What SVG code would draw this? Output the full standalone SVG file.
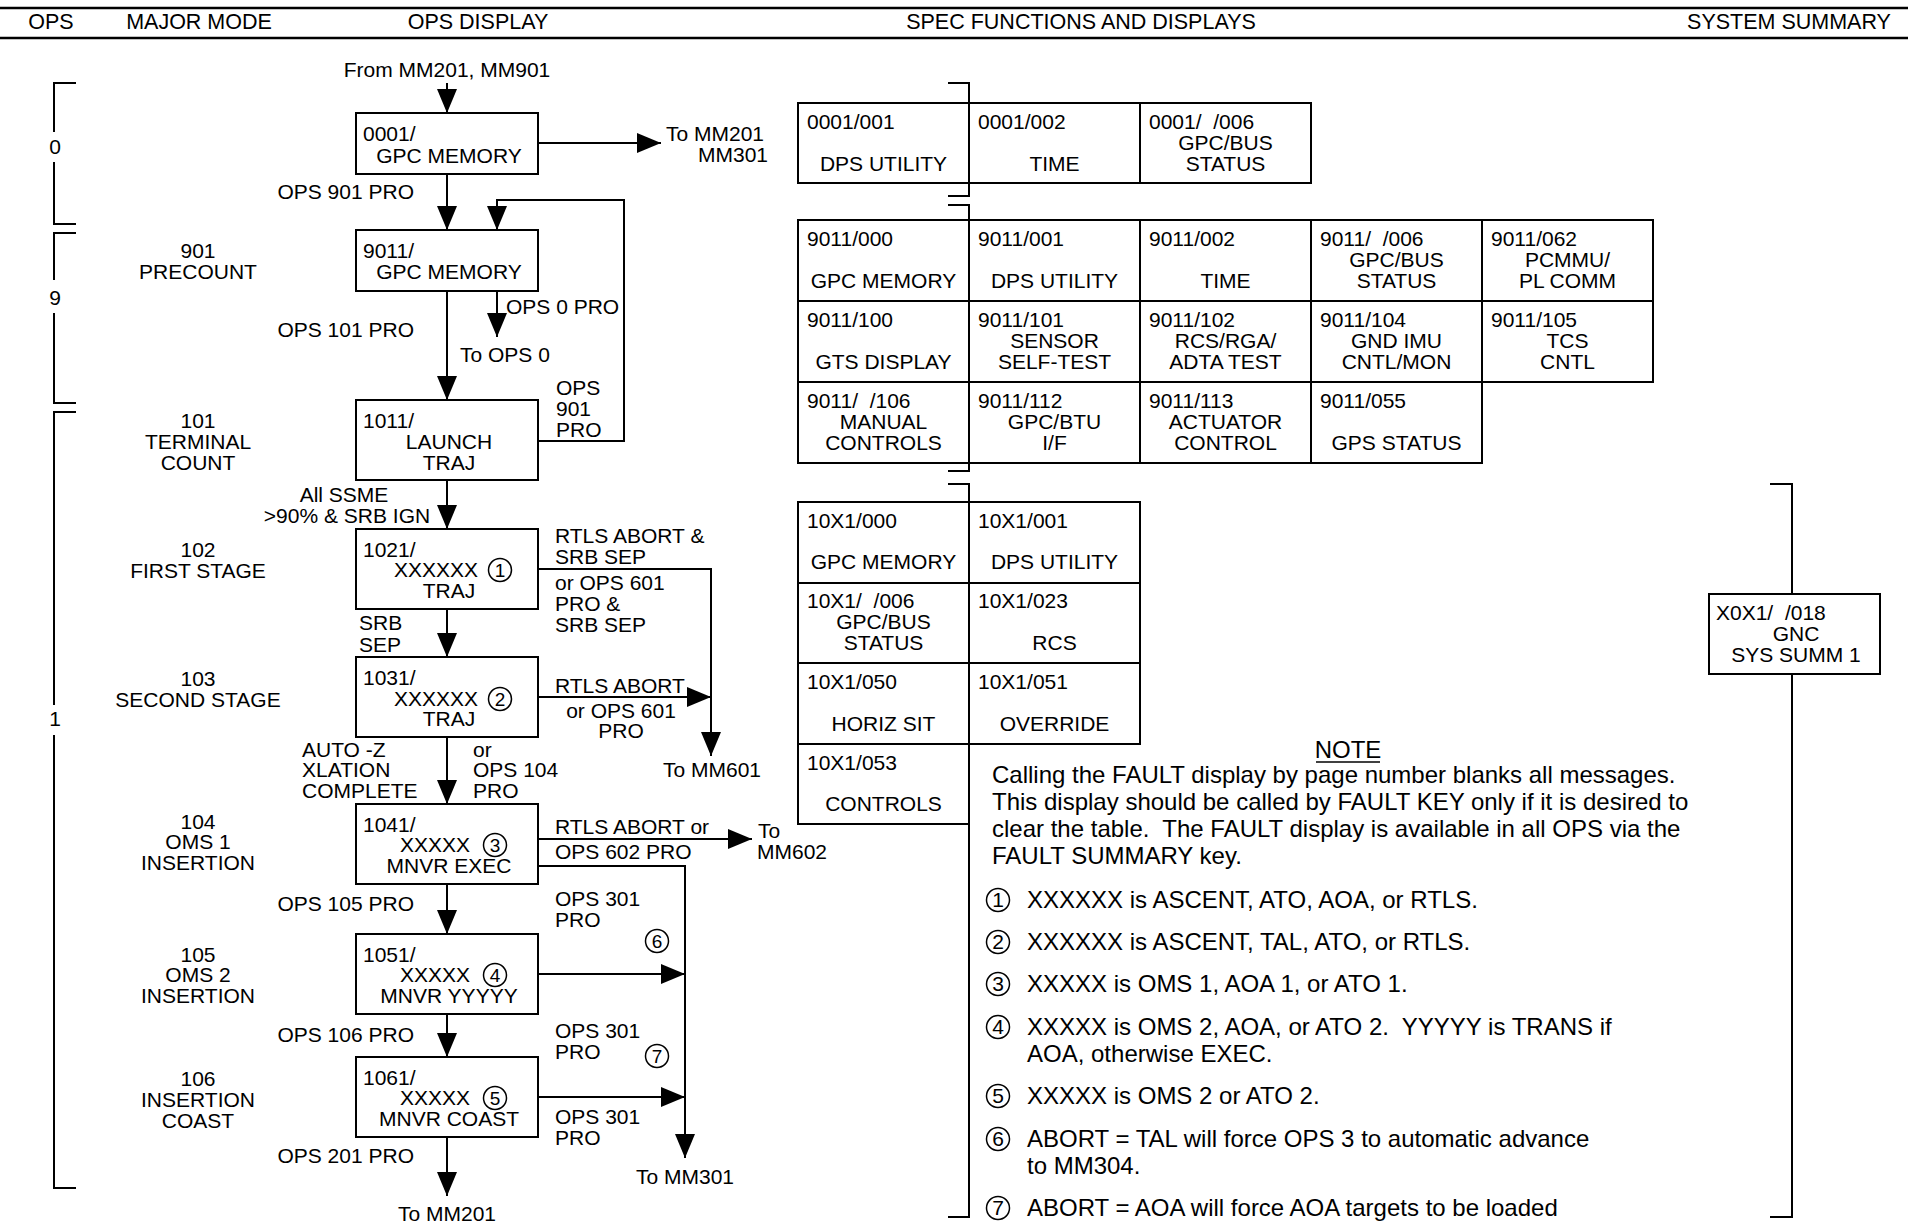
<svg xmlns="http://www.w3.org/2000/svg" width="1908" height="1222" viewBox="0 0 1908 1222">
<defs>
<style>
text { font-family: "Liberation Sans", Arial, sans-serif; font-size: 21px; fill: #000; }
.c { text-anchor: middle; }
.e { text-anchor: end; }
.pre { white-space: pre; }
.hdt { font-size: 21.5px; }
.nt { font-size: 24px; }
.box { fill: #fff; stroke: #000; stroke-width: 2; }
.ln { fill: none; stroke: #000; stroke-width: 2; }
.hd { fill: none; stroke: #000; stroke-width: 2.5; }
.cir { fill: #fff; stroke: #000; stroke-width: 1.5; }
.dg { font-size: 19px; text-anchor: middle; }
.dgn { font-size: 21px; text-anchor: middle; }
</style>
<marker id="ah" markerUnits="userSpaceOnUse" markerWidth="24" markerHeight="20" refX="24" refY="10" orient="auto">
<path d="M0,0 L24,10 L0,20 Z" fill="#000"/>
</marker>
</defs>
<rect width="1908" height="1222" fill="#fff"/>

<g id="header">
<line class="hd" x1="0" y1="8" x2="1908" y2="8"/>
<line class="hd" x1="0" y1="38" x2="1908" y2="38"/>
<text class="c hdt" x="51" y="29">OPS</text>
<text class="c hdt" x="199" y="29">MAJOR MODE</text>
<text class="c hdt" x="478" y="29">OPS DISPLAY</text>
<text class="c hdt" x="1081" y="29">SPEC FUNCTIONS AND DISPLAYS</text>
<text class="c hdt" x="1789" y="29">SYSTEM SUMMARY</text>
</g>

<g id="ops-brackets">
<path class="ln" d="M76,83 H54 V132 M54,162 V224 H76"/>
<text class="c" x="55" y="154">0</text>
<path class="ln" d="M76,233 H54 V280 M54,313 V403 H76"/>
<text class="c" x="55" y="305">9</text>
<path class="ln" d="M76,412 H54 V705 M54,735 V1188 H76"/>
<text class="c" x="55" y="726">1</text>
</g>

<g id="major-modes">
<text class="c" x="198" y="258">901</text>
<text class="c" x="198" y="279">PRECOUNT</text>
<text class="c" x="198" y="428">101</text>
<text class="c" x="198" y="449">TERMINAL</text>
<text class="c" x="198" y="470">COUNT</text>
<text class="c" x="198" y="557">102</text>
<text class="c" x="198" y="578">FIRST STAGE</text>
<text class="c" x="198" y="686">103</text>
<text class="c" x="198" y="707">SECOND STAGE</text>
<text class="c" x="198" y="829">104</text>
<text class="c" x="198" y="849">OMS 1</text>
<text class="c" x="198" y="870">INSERTION</text>
<text class="c" x="198" y="962">105</text>
<text class="c" x="198" y="982">OMS 2</text>
<text class="c" x="198" y="1003">INSERTION</text>
<text class="c" x="198" y="1086">106</text>
<text class="c" x="198" y="1107">INSERTION</text>
<text class="c" x="198" y="1128">COAST</text>
</g>

<g id="connectors">
<path class="ln" d="M447,83 V113" marker-end="url(#ah)"/>
<path class="ln" d="M447,174 V230" marker-end="url(#ah)"/>
<path class="ln" d="M538,143 H661" marker-end="url(#ah)"/>
<path class="ln" d="M447,291 V400" marker-end="url(#ah)"/>
<path class="ln" d="M497,291 V337" marker-end="url(#ah)"/>
<path class="ln" d="M538,441 H624 V200 H497 V230" marker-end="url(#ah)"/>
<path class="ln" d="M447,480 V529" marker-end="url(#ah)"/>
<path class="ln" d="M538,569 H711 V756" marker-end="url(#ah)"/>
<path class="ln" d="M447,609 V657" marker-end="url(#ah)"/>
<path class="ln" d="M538,697 H711" marker-end="url(#ah)"/>
<path class="ln" d="M447,737 V804" marker-end="url(#ah)"/>
<path class="ln" d="M538,839 H752" marker-end="url(#ah)"/>
<path class="ln" d="M538,866 H685 V1158" marker-end="url(#ah)"/>
<path class="ln" d="M447,884 V934" marker-end="url(#ah)"/>
<path class="ln" d="M538,974 H685" marker-end="url(#ah)"/>
<path class="ln" d="M447,1014 V1057" marker-end="url(#ah)"/>
<path class="ln" d="M538,1097 H685" marker-end="url(#ah)"/>
<path class="ln" d="M447,1137 V1196" marker-end="url(#ah)"/>
</g>

<g id="flow-labels">
<text class="c" x="447" y="77">From MM201, MM901</text>
<text x="666" y="141">To MM201</text>
<text class="e" x="768" y="162">MM301</text>
<text class="e" x="414" y="199">OPS 901 PRO</text>
<text x="506" y="314">OPS 0 PRO</text>
<text x="460" y="362">To OPS 0</text>
<text class="e" x="414" y="337">OPS 101 PRO</text>
<text x="556" y="395">OPS</text>
<text x="556" y="416">901</text>
<text x="556" y="437">PRO</text>
<text class="c" x="344" y="502">All SSME</text>
<text class="c" x="347" y="523">&gt;90% &amp; SRB IGN</text>
<text x="555" y="543">RTLS ABORT &amp;</text>
<text x="555" y="564">SRB SEP</text>
<text x="555" y="590">or OPS 601</text>
<text x="555" y="611">PRO &amp;</text>
<text x="555" y="632">SRB SEP</text>
<text x="359" y="630">SRB</text>
<text x="359" y="652">SEP</text>
<text x="555" y="693">RTLS ABORT</text>
<text class="c" x="621" y="718">or OPS 601</text>
<text class="c" x="621" y="738">PRO</text>
<text class="c" x="712" y="777">To MM601</text>
<text x="302" y="757">AUTO -Z</text>
<text x="302" y="777">XLATION</text>
<text x="302" y="798">COMPLETE</text>
<text x="473" y="757">or</text>
<text x="473" y="777">OPS 104</text>
<text x="473" y="798">PRO</text>
<text x="555" y="834">RTLS ABORT or</text>
<text x="555" y="859">OPS 602 PRO</text>
<text x="758" y="838">To</text>
<text x="757" y="859">MM602</text>
<text class="e" x="414" y="911">OPS 105 PRO</text>
<text x="555" y="906">OPS 301</text>
<text x="555" y="927">PRO</text>
<circle class="cir" cx="657" cy="941" r="11.5"/>
<text class="dg" x="657" y="948">6</text>
<text class="e" x="414" y="1042">OPS 106 PRO</text>
<text x="555" y="1038">OPS 301</text>
<text x="555" y="1059">PRO</text>
<circle class="cir" cx="657" cy="1056" r="11.5"/>
<text class="dg" x="657" y="1063">7</text>
<text x="555" y="1124">OPS 301</text>
<text x="555" y="1145">PRO</text>
<text class="e" x="414" y="1163">OPS 201 PRO</text>
<text class="c" x="685" y="1184">To MM301</text>
<text class="c" x="447" y="1221">To MM201</text>
</g>

<g id="box-0001">
<rect class="box" x="356" y="113" width="182" height="61"/>
<text x="363" y="141">0001/</text>
<text class="c" x="449" y="163">GPC MEMORY</text>
</g>
<g id="box-9011">
<rect class="box" x="356" y="230" width="182" height="61"/>
<text x="363" y="258">9011/</text>
<text class="c" x="449" y="279">GPC MEMORY</text>
</g>
<g id="box-1011">
<rect class="box" x="356" y="400" width="182" height="80"/>
<text x="363" y="428">1011/</text>
<text class="c" x="449" y="449">LAUNCH</text>
<text class="c" x="449" y="470">TRAJ</text>
</g>
<g id="box-1021">
<rect class="box" x="356" y="529" width="182" height="80"/>
<text x="363" y="557">1021/</text>
<text class="e" x="478" y="577">XXXXXX</text>
<circle class="cir" cx="500" cy="570" r="11.5"/>
<text class="dg" x="500" y="577">1</text>
<text class="c" x="449" y="598">TRAJ</text>
</g>
<g id="box-1031">
<rect class="box" x="356" y="657" width="182" height="80"/>
<text x="363" y="685">1031/</text>
<text class="e" x="478" y="706">XXXXXX</text>
<circle class="cir" cx="500" cy="699" r="11.5"/>
<text class="dg" x="500" y="706">2</text>
<text class="c" x="449" y="726">TRAJ</text>
</g>
<g id="box-1041">
<rect class="box" x="356" y="804" width="182" height="80"/>
<text x="363" y="832">1041/</text>
<text class="e" x="470" y="852">XXXXX</text>
<circle class="cir" cx="495" cy="845" r="11.5"/>
<text class="dg" x="495" y="852">3</text>
<text class="c" x="449" y="873">MNVR EXEC</text>
</g>
<g id="box-1051">
<rect class="box" x="356" y="934" width="182" height="80"/>
<text x="363" y="962">1051/</text>
<text class="e" x="470" y="982">XXXXX</text>
<circle class="cir" cx="495" cy="975" r="11.5"/>
<text class="dg" x="495" y="982">4</text>
<text class="c" x="449" y="1003">MNVR YYYYY</text>
</g>
<g id="box-1061">
<rect class="box" x="356" y="1057" width="182" height="80"/>
<text x="363" y="1085">1061/</text>
<text class="e" x="470" y="1105">XXXXX</text>
<circle class="cir" cx="495" cy="1098" r="11.5"/>
<text class="dg" x="495" y="1105">5</text>
<text class="c" x="449" y="1126">MNVR COAST</text>
</g>

<g id="spec-brackets">
<path class="ln" d="M948,83 H969 V196 H948"/>
<path class="ln" d="M948,205 H969 V471 H948"/>
<path class="ln" d="M948,484 H969 V1217 H948"/>
</g>

<g id="spec-ops0">
<rect class="box" x="798" y="103" width="171" height="80"/>
<text x="807" y="129">0001/001</text>
<text class="c" x="883.5" y="171">DPS UTILITY</text>
<rect class="box" x="969" y="103" width="171" height="80"/>
<text x="978" y="129">0001/002</text>
<text class="c" x="1054.5" y="171">TIME</text>
<rect class="box" x="1140" y="103" width="171" height="80"/>
<text class="pre" x="1149" y="129" xml:space="preserve">0001/  /006</text>
<text class="c" x="1225.5" y="150">GPC/BUS</text>
<text class="c" x="1225.5" y="171">STATUS</text>
</g>

<g id="spec-ops9">
<rect class="box" x="798" y="220" width="171" height="81"/>
<text x="807" y="246">9011/000</text>
<text class="c" x="883.5" y="288">GPC MEMORY</text>
<rect class="box" x="969" y="220" width="171" height="81"/>
<text x="978" y="246">9011/001</text>
<text class="c" x="1054.5" y="288">DPS UTILITY</text>
<rect class="box" x="1140" y="220" width="171" height="81"/>
<text x="1149" y="246">9011/002</text>
<text class="c" x="1225.5" y="288">TIME</text>
<rect class="box" x="1311" y="220" width="171" height="81"/>
<text class="pre" x="1320" y="246" xml:space="preserve">9011/  /006</text>
<text class="c" x="1396.5" y="267">GPC/BUS</text>
<text class="c" x="1396.5" y="288">STATUS</text>
<rect class="box" x="1482" y="220" width="171" height="81"/>
<text x="1491" y="246">9011/062</text>
<text class="c" x="1567.5" y="267">PCMMU/</text>
<text class="c" x="1567.5" y="288">PL COMM</text>

<rect class="box" x="798" y="301" width="171" height="81"/>
<text x="807" y="327">9011/100</text>
<text class="c" x="883.5" y="369">GTS DISPLAY</text>
<rect class="box" x="969" y="301" width="171" height="81"/>
<text x="978" y="327">9011/101</text>
<text class="c" x="1054.5" y="348">SENSOR</text>
<text class="c" x="1054.5" y="369">SELF-TEST</text>
<rect class="box" x="1140" y="301" width="171" height="81"/>
<text x="1149" y="327">9011/102</text>
<text class="c" x="1225.5" y="348">RCS/RGA/</text>
<text class="c" x="1225.5" y="369">ADTA TEST</text>
<rect class="box" x="1311" y="301" width="171" height="81"/>
<text x="1320" y="327">9011/104</text>
<text class="c" x="1396.5" y="348">GND IMU</text>
<text class="c" x="1396.5" y="369">CNTL/MON</text>
<rect class="box" x="1482" y="301" width="171" height="81"/>
<text x="1491" y="327">9011/105</text>
<text class="c" x="1567.5" y="348">TCS</text>
<text class="c" x="1567.5" y="369">CNTL</text>

<rect class="box" x="798" y="382" width="171" height="81"/>
<text class="pre" x="807" y="408" xml:space="preserve">9011/  /106</text>
<text class="c" x="883.5" y="429">MANUAL</text>
<text class="c" x="883.5" y="450">CONTROLS</text>
<rect class="box" x="969" y="382" width="171" height="81"/>
<text x="978" y="408">9011/112</text>
<text class="c" x="1054.5" y="429">GPC/BTU</text>
<text class="c" x="1054.5" y="450">I/F</text>
<rect class="box" x="1140" y="382" width="171" height="81"/>
<text x="1149" y="408">9011/113</text>
<text class="c" x="1225.5" y="429">ACTUATOR</text>
<text class="c" x="1225.5" y="450">CONTROL</text>
<rect class="box" x="1311" y="382" width="171" height="81"/>
<text x="1320" y="408">9011/055</text>
<text class="c" x="1396.5" y="450">GPS STATUS</text>
</g>

<g id="spec-ops1">
<rect class="box" x="798" y="502" width="171" height="81"/>
<text x="807" y="528">10X1/000</text>
<text class="c" x="883.5" y="569">GPC MEMORY</text>
<rect class="box" x="969" y="502" width="171" height="81"/>
<text x="978" y="528">10X1/001</text>
<text class="c" x="1054.5" y="569">DPS UTILITY</text>
<rect class="box" x="798" y="583" width="171" height="80"/>
<text class="pre" x="807" y="608" xml:space="preserve">10X1/  /006</text>
<text class="c" x="883.5" y="629">GPC/BUS</text>
<text class="c" x="883.5" y="650">STATUS</text>
<rect class="box" x="969" y="583" width="171" height="80"/>
<text x="978" y="608">10X1/023</text>
<text class="c" x="1054.5" y="650">RCS</text>
<rect class="box" x="798" y="663" width="171" height="81"/>
<text x="807" y="689">10X1/050</text>
<text class="c" x="883.5" y="731">HORIZ SIT</text>
<rect class="box" x="969" y="663" width="171" height="81"/>
<text x="978" y="689">10X1/051</text>
<text class="c" x="1054.5" y="731">OVERRIDE</text>
<rect class="box" x="798" y="744" width="171" height="80"/>
<text x="807" y="770">10X1/053</text>
<text class="c" x="883.5" y="811">CONTROLS</text>
</g>

<g id="system-summary">
<path class="ln" d="M1770,484 H1792 V1217 H1770"/>
<rect class="box" x="1709" y="594" width="171" height="80"/>
<text class="pre" x="1716" y="620" xml:space="preserve">X0X1/  /018</text>
<text class="c" x="1796" y="641">GNC</text>
<text class="c" x="1796" y="662">SYS SUMM 1</text>
</g>

<g id="notes">
<text class="c nt" x="1348" y="758">NOTE</text>
<line x1="1316" y1="762" x2="1380" y2="762" stroke="#000" stroke-width="1.5"/>
<text class="nt" x="992" y="783">Calling the FAULT display by page number blanks all messages.</text>
<text class="nt" x="992" y="810">This display should be called by FAULT KEY only if it is desired to</text>
<text class="nt pre" x="992" y="837" xml:space="preserve">clear the table.  The FAULT display is available in all OPS via the</text>
<text class="nt" x="992" y="864">FAULT SUMMARY key.</text>
<circle class="cir" cx="998" cy="900" r="11.5"/><text class="dgn" x="998" y="907">1</text>
<text class="nt" x="1027" y="908">XXXXXX is ASCENT, ATO, AOA, or RTLS.</text>
<circle class="cir" cx="998" cy="942" r="11.5"/><text class="dgn" x="998" y="949">2</text>
<text class="nt" x="1027" y="950">XXXXXX is ASCENT, TAL, ATO, or RTLS.</text>
<circle class="cir" cx="998" cy="984" r="11.5"/><text class="dgn" x="998" y="991">3</text>
<text class="nt" x="1027" y="992">XXXXX is OMS 1, AOA 1, or ATO 1.</text>
<circle class="cir" cx="998" cy="1027" r="11.5"/><text class="dgn" x="998" y="1034">4</text>
<text class="nt pre" x="1027" y="1035" xml:space="preserve">XXXXX is OMS 2, AOA, or ATO 2.  YYYYY is TRANS if</text>
<text class="nt" x="1027" y="1062">AOA, otherwise EXEC.</text>
<circle class="cir" cx="998" cy="1096" r="11.5"/><text class="dgn" x="998" y="1103">5</text>
<text class="nt" x="1027" y="1104">XXXXX is OMS 2 or ATO 2.</text>
<circle class="cir" cx="998" cy="1139" r="11.5"/><text class="dgn" x="998" y="1146">6</text>
<text class="nt" x="1027" y="1147">ABORT = TAL will force OPS 3 to automatic advance</text>
<text class="nt" x="1027" y="1174">to MM304.</text>
<circle class="cir" cx="998" cy="1208" r="11.5"/><text class="dgn" x="998" y="1215">7</text>
<text class="nt" x="1027" y="1216">ABORT = AOA will force AOA targets to be loaded</text>
</g>
</svg>
